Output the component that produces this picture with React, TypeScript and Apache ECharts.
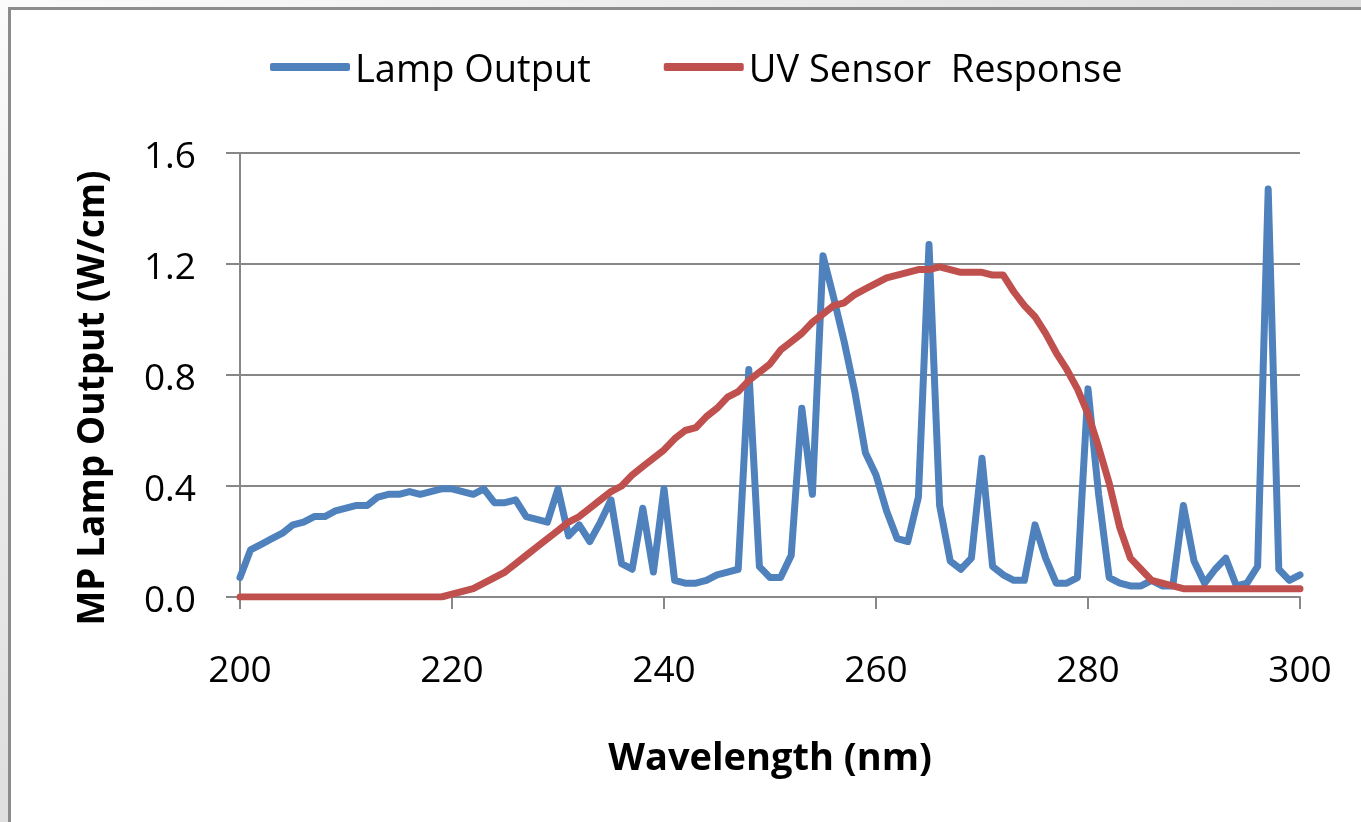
import React, { useEffect, useRef } from "react";
import * as echarts from "echarts";

// Wavelength in nm, one sample per nanometre
const wavelengths = [
  200, 201, 202, 203, 204, 205, 206, 207, 208, 209,
  210, 211, 212, 213, 214, 215, 216, 217, 218, 219,
  220, 221, 222, 223, 224, 225, 226, 227, 228, 229,
  230, 231, 232, 233, 234, 235, 236, 237, 238, 239,
  240, 241, 242, 243, 244, 245, 246, 247, 248, 249,
  250, 251, 252, 253, 254, 255, 256, 257, 258, 259,
  260, 261, 262, 263, 264, 265, 266, 267, 268, 269,
  270, 271, 272, 273, 274, 275, 276, 277, 278, 279,
  280, 281, 282, 283, 284, 285, 286, 287, 288, 289,
  290, 291, 292, 293, 294, 295, 296, 297, 298, 299,
  300,
];

// Medium-pressure lamp spectral output (W/cm)
const lampOutput = [
  0.07, 0.17, 0.19, 0.21, 0.23, 0.26, 0.27, 0.29, 0.29, 0.31,
  0.32, 0.33, 0.33, 0.36, 0.37, 0.37, 0.38, 0.37, 0.38, 0.39,
  0.39, 0.38, 0.37, 0.39, 0.34, 0.34, 0.35, 0.29, 0.28, 0.27,
  0.39, 0.22, 0.26, 0.2, 0.27, 0.35, 0.12, 0.1, 0.32, 0.09,
  0.39, 0.06, 0.05, 0.05, 0.06, 0.08, 0.09, 0.1, 0.82, 0.11,
  0.07, 0.07, 0.15, 0.68, 0.37, 1.23, 1.08, 0.92, 0.74, 0.52,
  0.44, 0.31, 0.21, 0.2, 0.36, 1.27, 0.33, 0.13, 0.1, 0.14,
  0.5, 0.11, 0.08, 0.06, 0.06, 0.26, 0.14, 0.05, 0.05, 0.07,
  0.75, 0.37, 0.07, 0.05, 0.04, 0.04, 0.06, 0.04, 0.04, 0.33,
  0.13, 0.05, 0.1, 0.14, 0.04, 0.05, 0.11, 1.47, 0.1, 0.06,
  0.08,
];

// UV sensor relative response, on the same scale
const sensorResponse = [
  0, 0, 0, 0, 0, 0, 0, 0, 0, 0,
  0, 0, 0, 0, 0, 0, 0, 0, 0, 0,
  0.01, 0.02, 0.03, 0.05, 0.07, 0.09, 0.12, 0.15, 0.18, 0.21,
  0.24, 0.27, 0.29, 0.32, 0.35, 0.38, 0.4, 0.44, 0.47, 0.5,
  0.53, 0.57, 0.6, 0.61, 0.65, 0.68, 0.72, 0.74, 0.78, 0.81,
  0.84, 0.89, 0.92, 0.95, 0.99, 1.02, 1.05, 1.06, 1.09, 1.11,
  1.13, 1.15, 1.16, 1.17, 1.18, 1.18, 1.19, 1.18, 1.17, 1.17,
  1.17, 1.16, 1.16, 1.1, 1.05, 1.01, 0.95, 0.88, 0.82, 0.75,
  0.66, 0.54, 0.41, 0.25, 0.14, 0.1, 0.06, 0.05, 0.04, 0.03,
  0.03, 0.03, 0.03, 0.03, 0.03, 0.03, 0.03, 0.03, 0.03, 0.03,
  0.03,
];

const seriesNames = ["Lamp Output", "UV Sensor  Response"];
const xTitle = "Wavelength (nm)";
const yTitle = "MP Lamp Output (W/cm)";

const FONT = "'Open Sans', 'Liberation Sans', sans-serif";
const AXIS_GRAY = "#878787";

export default function App() {
  const ref = useRef<HTMLDivElement>(null);

  useEffect(() => {
    if (!ref.current) return;
    const chart = echarts.init(ref.current, undefined, { renderer: "svg" });

    const lampPairs = wavelengths.map((w, i) => [w, lampOutput[i]]);
    const sensorPairs = wavelengths.map((w, i) => [w, sensorResponse[i]]);

    chart.setOption({
      animation: false,
      backgroundColor: {
        type: "radial",
        x: 0,
        y: 0,
        r: 1,
        colorStops: [
          { offset: 0, color: "#fbfbfb" },
          { offset: 1, color: "#dedede" },
        ],
      },
      textStyle: { fontFamily: FONT },
      graphic: [
        {
          type: "rect",
          z: -10,
          silent: true,
          shape: { x: 9.5, y: 8.5, width: 1400, height: 900 },
          style: { fill: "#ffffff", stroke: "#8c8c8c", lineWidth: 3 },
        },
        {
          type: "text",
          x: 89,
          y: 398,
          rotation: Math.PI / 2,
          style: {
            text: yTitle,
            fontFamily: FONT,
            fontSize: 37,
            fontWeight: "bold",
            fill: "#000000",
            align: "center",
            verticalAlign: "middle",
          },
        },
      ],
      legend: {
        left: 265,
        top: 43,
        itemWidth: 80,
        itemHeight: 8,
        itemGap: 73,
        icon: "roundRect",
        textStyle: { fontFamily: FONT, fontSize: 38, color: "#000000" },
        data: seriesNames,
      },
      grid: { left: 240, right: 61, top: 153, bottom: 225, containLabel: false },
      xAxis: {
        type: "value",
        min: 200,
        max: 300,
        interval: 20,
        name: xTitle,
        nameLocation: "middle",
        nameGap: 139,
        nameTextStyle: { fontFamily: FONT, fontSize: 38, fontWeight: "bold", color: "#000000" },
        axisLine: { show: true, lineStyle: { color: AXIS_GRAY, width: 2 } },
        axisTick: { show: true, length: 12, lineStyle: { color: AXIS_GRAY, width: 2 } },
        axisLabel: { margin: 52, fontFamily: FONT, fontSize: 37, color: "#000000" },
        splitLine: { show: false },
      },
      yAxis: {
        type: "value",
        min: 0,
        max: 1.6,
        interval: 0.4,
        axisLine: { show: true, lineStyle: { color: AXIS_GRAY, width: 2 } },
        axisTick: { show: true, length: 14, lineStyle: { color: AXIS_GRAY, width: 2 } },
        axisLabel: {
          margin: 44,
          fontFamily: FONT,
          fontSize: 37,
          color: "#000000",
          formatter: (v: number) => v.toFixed(1),
        },
        splitLine: { show: true, lineStyle: { color: AXIS_GRAY, width: 2 } },
      },
      series: [
        {
          name: seriesNames[0],
          type: "line",
          data: lampPairs,
          showSymbol: false,
          symbol: "none",
          color: "#4f81bd",
          lineStyle: { color: "#4f81bd", width: 7, cap: "round", join: "round" },
          z: 2,
        },
        {
          name: seriesNames[1],
          type: "line",
          data: sensorPairs,
          showSymbol: false,
          symbol: "none",
          color: "#c0504d",
          lineStyle: { color: "#c0504d", width: 7, cap: "round", join: "round" },
          z: 3,
        },
      ],
    });

    return () => chart.dispose();
  }, []);

  return (
    <div
      ref={ref}
      style={{ position: "fixed", left: 0, top: 0, width: 1361, height: 822 }}
    />
  );
}
